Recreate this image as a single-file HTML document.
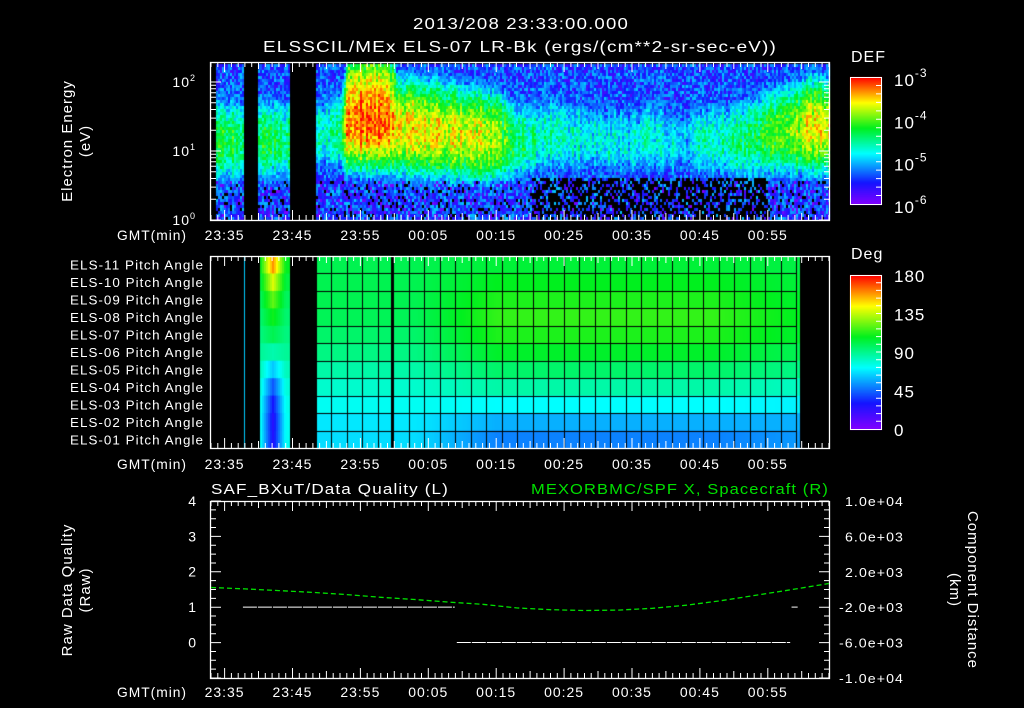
<!DOCTYPE html>
<html><head><meta charset="utf-8">
<style>
html,body{margin:0;padding:0;background:#000;}
#wrap{position:relative;width:1024px;height:708px;overflow:hidden;background:#000;}
canvas{position:absolute;left:0;top:0;}
svg{position:absolute;left:0;top:0;}
text{font-family:"Liberation Sans",sans-serif;fill:#fff;letter-spacing:1px;}
</style></head>
<body>
<div id="wrap">
<canvas id="cv" width="1024" height="708"></canvas>
<svg id="sv" width="1024" height="708"></svg>
</div>
<script>
// ---------- data ----------
const timeTickLabels = ["23:35","23:45","23:55","00:05","00:15","00:25","00:35","00:45","00:55"];
const timeTickMinutes = [2,12,22,32,42,52,62,72,82]; // minutes after 23:33
const specTimes  = [0,3,4.8,7,11.5,15.3,17,19,20,26,27,32,36,40,42,44,46,48,50,52,54,56,58,60,62,64,66,68,70,72,74,76,78,80,82,84,86,88,91];
const specPeakLog= [-4.3,-4.3,-4.3,-4.35,-4.4,-4.7,-4.6,-4.5,-3.2,-3.2,-3.55,-3.6,-3.65,-3.7,-3.85,-4.3,-4.5,-4.6,-4.7,-4.8,-4.65,-4.8,-4.7,-4.8,-4.85,-4.75,-4.8,-4.9,-5.0,-4.7,-4.6,-4.5,-4.45,-4.35,-4.2,-4.0,-3.85,-3.7,-3.6];
const specPeakE  = [1.15,1.15,1.15,1.15,1.15,1.25,1.25,1.3,1.45,1.45,1.35,1.3,1.25,1.2,1.2,1.15,1.15,1.2,1.25,1.2,1.2,1.2,1.15,1.15,1.15,1.2,1.2,1.1,1.2,1.15,1.15,1.15,1.15,1.2,1.25,1.3,1.3,1.35,1.35];
const dataBlocks = [[0.5,4.85],[6.9,11.5],[15.3,91]];
const speckleRange = [47,82];
const pitchLabels = ["ELS-11","ELS-10","ELS-09","ELS-08","ELS-07","ELS-06","ELS-05","ELS-04","ELS-03","ELS-02","ELS-01"];
const pitchBurst  = [160,140,122,110,100,85,62,42,30,25,26];
const pitchEarly  = [100,100,100,99,96,92,86,80,74,68,66];
const pitchLate   = [104,108,112,115,112,106,96,86,72,58,50];
const pitchEnd    = [102,104,106,108,106,100,92,82,70,58,54];
const pitchBlocks = [[10.8,11.5],[15.3,86.7]];
const qualSegs = [[4.7,35.9,1],[36.2,85.3,0],[85.5,86.4,1]];
const posTimes = [0,5,10,15,20,25,30,35,40,45,50,55,60,65,70,75,80,85,91];
const posVals  = [200,50,-150,-350,-600,-900,-1150,-1450,-1700,-2100,-2300,-2400,-2350,-2150,-1800,-1300,-700,-100,650];

// ---------- scales ----------
const X0=211, PXM=6.79;
const xT = t => X0 + t*PXM;
const TOP={y0:62,y1:220}; const yE = l => 220 - l*69;
const MID={y0:256,y1:448};
const BOT={y0:501,y1:678};
const yQ = q => 642.5 - q*35.4;
const yKm = v => 589.3 - v*0.00885;

function cmap(v){
  v=Math.max(0,Math.min(1,v));
  const st=[[0,[130,0,255]],[0.17,[20,20,255]],[0.4,[0,255,255]],[0.6,[0,240,30]],[0.8,[255,255,0]],[1,[255,0,0]]];
  for(let i=1;i<st.length;i++){ if(v<=st[i][0]){const a=st[i-1],b=st[i];const f=(v-a[0])/(b[0]-a[0]);
    return a[1].map((c,k)=>Math.round(c+(b[1][k]-c)*f));}}
  return [255,0,0];
}
function interp(ts,vs,t){ if(t<=ts[0])return vs[0]; for(let i=1;i<ts.length;i++){if(t<=ts[i]){const f=(t-ts[i-1])/(ts[i]-ts[i-1]);return vs[i-1]+(vs[i]-vs[i-1])*f;}} return vs[vs.length-1];}
function hash(i,j){const s=Math.sin(i*12.9898+j*78.233)*43758.5453;return s-Math.floor(s);}
function inBlock(bl,t){return bl.some(b=>t>=b[0]&&t<=b[1]);}

const cv=document.getElementById('cv'); const ctx=cv.getContext('2d');
for(let x=212;x<829;x+=2){
  const t=(x-X0)/PXM; if(!inBlock(dataBlocks,t)) continue;
  const pk=interp(specTimes,specPeakLog,t), pe=interp(specTimes,specPeakE,t);
  const colN=hash(x,7)*0.4-0.2;
  const up=(t>20&&t<27)?0.45:0.8;
  for(let y=64;y<219;y+=3){
    const le=(220-y)/69;
    const d=(le-pe)/0.55;
    let lv=pk - 0.9*d*d*(d>0?up:1) + colN + (hash(x,y)-0.5)*0.6;
    lv=Math.max(lv,-5.75+(hash(y,x)*0.8));
    if(le<0.65 && t>speckleRange[0] && t<speckleRange[1] && hash(x*3,y*5)>0.45) lv=-7;
    if(le<0.6 && hash(x*7,y*3)>0.8) lv-=0.8;
    if(lv<-6.05) continue;
    const c=cmap((lv+6)/3); ctx.fillStyle=`rgb(${c})`; ctx.fillRect(x,y,2,3);
  }
}
const rowH=(MID.y1-MID.y0)/11;
for(let x=238;x<829;x+=2){
  const t=(x-X0)/PXM;
  let vals=null;
  if(t>=7 && t<=11.4){vals=pitchBurst.map((v,i)=>90+(v-90)*Math.max(0.25,1-Math.abs(t-9)/2.5));}
  else if(inBlock(pitchBlocks,t)){
    const f=Math.max(0,Math.min(1,(t-30)/12)); const g=Math.max(0,Math.min(1,(t-74)/12));
    vals=pitchEarly.map((v,i)=>{const a=v+(pitchLate[i]-v)*f;return a+(pitchEnd[i]-a)*g;});
  }
  if(!vals) continue;
  for(let r=0;r<11;r++){const c=cmap(vals[r]/180);ctx.fillStyle=`rgb(${c})`;ctx.fillRect(x,MID.y0+r*rowH,2,rowH+1);}
}
ctx.fillStyle='#000';
for(let x=238;x<798;x+=15.5){const t=(x-X0)/PXM;if(t>15.3&&t<86.7) ctx.fillRect(Math.round(x),MID.y0,1,MID.y1-MID.y0);}
for(let r=1;r<11;r++) ctx.fillRect(315,Math.round(MID.y0+r*rowH),482,1);
ctx.fillRect(391,MID.y0,3,MID.y1-MID.y0);
ctx.fillStyle='#0cf'; ctx.fillRect(244,MID.y0,1,MID.y1-MID.y0);
for(let y=77;y<=204;y++){const c=cmap((204-y)/127);ctx.fillStyle=`rgb(${c})`;ctx.fillRect(850,y,32,1);}
for(let y=275;y<=429;y++){const c=cmap((429-y)/154);ctx.fillStyle=`rgb(${c})`;ctx.fillRect(850,y,32,1);}

// ---------- SVG overlay ----------
const sv=document.getElementById('sv'); const NS='http://www.w3.org/2000/svg';
function el(tag,attrs,txt){const e=document.createElementNS(NS,tag);for(const k in attrs)e.setAttribute(k,attrs[k]);if(txt!==undefined)e.textContent=txt;sv.appendChild(e);return e;}
function frame(y0,y1,name){
  const r=el('rect',{x:210.5,y:y0+0.5,width:619,height:y1-y0,fill:'none',stroke:'#fff','stroke-width':1.3});
   
  let d='';
  for(let m=0;m<=91;m++){const x=xT(m).toFixed(1);const L=((m-2)%10===0)?10:((m-2)%5===0?7:5);
    d+=`M${x} ${y0}v${L}M${x} ${y1}v${-L}`;}
  const p=el('path',{d:d,stroke:'#fff','stroke-width':1,fill:'none'});
   
}
function timeLabels(y,name){
  el('text',{x:152,y:y,'font-size':14,'text-anchor':'middle',textLength:70,lengthAdjust:'spacingAndGlyphs'},'GMT(min)');
  timeTickLabels.forEach((lab,i)=>{const t=el('text',{x:xT(timeTickMinutes[i])-20,y:y,'font-size':14,textLength:40,lengthAdjust:'spacingAndGlyphs'},lab);
     });
}
frame(TOP.y0,TOP.y1,'energy-panel-frame');
frame(MID.y0,MID.y1,'pitch-panel-frame');
frame(BOT.y0,BOT.y1,'quality-panel-frame');
timeLabels(240,'energy'); timeLabels(469,'pitch'); timeLabels(697,'quality');
el('text',{x:413,y:29,'font-size':16,textLength:216,lengthAdjust:'spacingAndGlyphs'},'2013/208 23:33:00.000');
el('text',{x:263,y:52,'font-size':16,textLength:514,lengthAdjust:'spacingAndGlyphs'},'ELSSCIL/MEx ELS-07 LR-Bk  (ergs/(cm**2-sr-sec-eV))');
let d='';
for(let dec=0;dec<=2;dec++){for(let k=1;k<=9;k++){const l=dec+Math.log10(k);if(l>2.27)break;const y=yE(l);const L=k===1?10:5;d+=`M211 ${y.toFixed(1)}h${L}M829 ${y.toFixed(1)}h${-L}`;}}
el('path',{d:d,stroke:'#fff',fill:'none'});
[0,1,2].forEach(e=>{const t=el('text',{x:196,y:yE(e)+5,'font-size':14,'text-anchor':'end'});t.innerHTML=`10<tspan dy="-6" font-size="9">${e}</tspan>`;});
el('text',{x:72,y:141,'font-size':15,'text-anchor':'middle',transform:'rotate(-90 72 141)'},'Electron Energy');
el('text',{x:90,y:141,'font-size':15,'text-anchor':'middle',transform:'rotate(-90 90 141)'},'(eV)');
pitchLabels.forEach((lab,i)=>{const t=el('text',{x:70,y:MID.y0+rowH*(i+0.5)+5,'font-size':13,textLength:134,lengthAdjust:'spacingAndGlyphs'},lab+' Pitch Angle');});
el('rect',{x:850.5,y:77.5,width:31,height:127,fill:'none',stroke:'#fff'});
el('rect',{x:850.5,y:275.5,width:31,height:154,fill:'none',stroke:'#fff'});
el('text',{x:851,y:62,'font-size':16},'DEF');
el('text',{x:851,y:259,'font-size':16},'Deg');
[-3,-4,-5,-6].forEach((e,i)=>{const y=77+i*42.3;const t=el('text',{x:894,y:y+9,'font-size':17});t.innerHTML=`10<tspan dy="-9" font-size="12">${e}</tspan>`;});
['180','135','90','45','0'].forEach((s,i)=>{const t=el('text',{x:894,y:275+i*38.5+7,'font-size':17},s);});
d='';for(let i=1;i<15;i++){const y=(77+i*127/15).toFixed(1);d+=`M882 ${y}h-6`;}for(let i=1;i<20;i++){const y=(275+i*154/20).toFixed(1);d+=`M882 ${y}h-6`;}
el('path',{d:d,stroke:'#fff'});
el('text',{x:211,y:494,'font-size':15,textLength:238,lengthAdjust:'spacingAndGlyphs'},'SAF_BXuT/Data Quality (L)');
const gt=el('text',{x:531,y:494,'font-size':15,textLength:298,lengthAdjust:'spacingAndGlyphs'},'MEXORBMC/SPF X, Spacecraft (R)');gt.style.fill='#00e000';
d='';for(let q=0;q<=20;q++){const y=(BOT.y0+q*(BOT.y1-BOT.y0)/20).toFixed(1);const L=q%4===0?10:5;d+=`M211 ${y}h${L}M829 ${y}h${-L}`;}
el('path',{d:d,stroke:'#fff'});
['4','3','2','1','0'].forEach((s,i)=>{const t=el('text',{x:197,y:yQ(4-i)+5,'font-size':14,'text-anchor':'end'},s);});
['1.0e+04','6.0e+03','2.0e+03','-2.0e+03','-6.0e+03','-1.0e+04'].forEach((s,i)=>{const t=el('text',{x:i>2?839:845,y:BOT.y0+i*35.4+5,'font-size':13,textLength:i>2?65:59,lengthAdjust:'spacingAndGlyphs'},s);});
el('text',{x:72,y:590,'font-size':15,'text-anchor':'middle',transform:'rotate(-90 72 590)'},'Raw Data Quality');
el('text',{x:90,y:590,'font-size':15,'text-anchor':'middle',transform:'rotate(-90 90 590)'},'(Raw)');
el('text',{x:968,y:590,'font-size':15,'text-anchor':'middle',transform:'rotate(90 968 590)'},'Component Distance');
el('text',{x:950,y:590,'font-size':15,'text-anchor':'middle',transform:'rotate(90 950 590)'},'(km)');
qualSegs.forEach(s=>{const l=el('line',{x1:xT(s[0]),x2:xT(s[1]),y1:yQ(s[2]),y2:yQ(s[2]),stroke:'#fff','stroke-width':1,'stroke-dasharray':'14 1'});});
const pts=posTimes.map((t,i)=>xT(t).toFixed(1)+','+yKm(posVals[i]).toFixed(1)).join(' ');
const pl=el('polyline',{points:pts,fill:'none',stroke:'#00e000','stroke-width':1.3,'stroke-dasharray':'5 3'});
 
</script>
</body></html>
